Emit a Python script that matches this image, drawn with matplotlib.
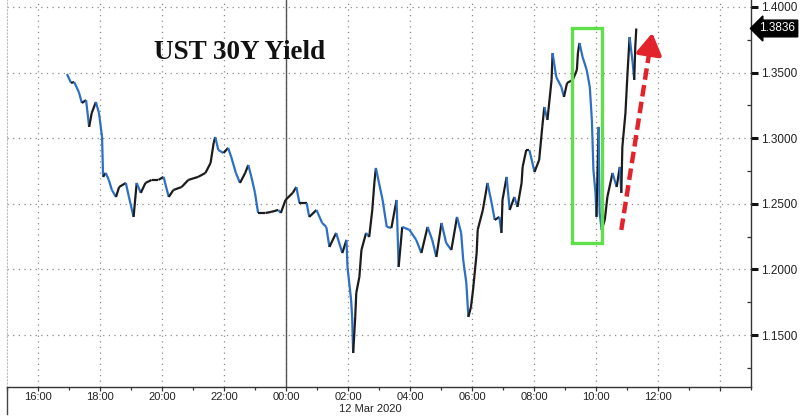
import matplotlib
matplotlib.use("Agg")
import matplotlib.pyplot as plt
import matplotlib.dates as mdates
from matplotlib.collections import LineCollection
from matplotlib.patches import Rectangle
from matplotlib.ticker import MultipleLocator, FormatStrFormatter, FuncFormatter
import pandas as pd
import numpy as np

# ---------------- data ----------------
times_day1 = ["16:56", "17:04", "17:10", "17:19", "17:25", "17:33", "17:39", "17:44", "17:52", "17:58",
              "18:04", "18:06", "18:11", "18:17", "18:23", "18:31", "18:37", "18:50", "18:56", "19:05",
              "19:11", "19:19", "19:28", "19:40", "19:53", "20:03", "20:13", "20:22", "20:38", "20:51",
              "21:10", "21:24", "21:34", "21:40", "21:43", "21:49", "21:59", "22:08", "22:14", "22:23",
              "22:31", "22:41", "22:47", "22:53", "23:00", "23:06", "23:20", "23:31", "23:45", "23:50",
              "23:59"]
yield_day1 = [1.3489, 1.3421, 1.3428, 1.3352, 1.3268, 1.3291, 1.3086, 1.3192, 1.3276, 1.3192,
              1.3009, 1.2705, 1.2735, 1.2682, 1.2605, 1.2552, 1.2628, 1.2659, 1.2552, 1.2400,
              1.2659, 1.2583, 1.2659, 1.2682, 1.2682, 1.2705, 1.2552, 1.2605, 1.2628, 1.2682,
              1.2705, 1.2735, 1.2811, 1.2964, 1.3009, 1.2910, 1.2887, 1.2926, 1.2857, 1.2735,
              1.2659, 1.2735, 1.2796, 1.2705, 1.2583, 1.2430, 1.2430, 1.2438, 1.2453, 1.2430,
              1.2529]
times_day2 = ["00:13", "00:20", "00:26", "00:40", "00:45", "00:59", "01:10", "01:18", "01:24", "01:37",
              "01:49", "01:57", "01:59", "02:06", "02:08", "02:10", "02:14", "02:16", "02:22", "02:26",
              "02:35", "02:41", "02:47", "02:51", "02:54", "03:00", "03:07", "03:15", "03:24", "03:34",
              "03:36", "03:38", "03:45", "03:59", "04:12", "04:22", "04:34", "04:43", "04:51", "05:01",
              "05:10", "05:20", "05:31", "05:39", "05:43", "05:49", "05:53", "05:58", "06:02", "06:09",
              "06:11", "06:21", "06:30", "06:38", "06:44", "06:53", "06:57", "06:59", "07:07", "07:13",
              "07:22", "07:28", "07:36", "07:38", "07:45", "07:51", "08:01", "08:10", "08:16", "08:20",
              "08:26", "08:34", "08:36", "08:43", "08:53", "08:58", "09:04", "09:15", "09:23", "09:25",
              "09:28", "09:34", "09:42", "09:48", "09:52", "09:55", "09:59", "10:01", "10:05", "10:07",
              "10:11", "10:17", "10:22", "10:32", "10:40", "10:46", "10:49", "10:51", "10:57", "11:01",
              "11:05", "11:11", "11:14", "11:16", "11:18"]
yield_day2 = [1.2583, 1.2628, 1.2506, 1.2506, 1.2400, 1.2453, 1.2354, 1.2324, 1.2171, 1.2278,
              1.2125, 1.2225, 1.2019, 1.1767, 1.1638, 1.1363, 1.1638, 1.1821, 1.1943, 1.2148,
              1.2278, 1.2247, 1.2453, 1.2659, 1.2773, 1.2659, 1.2529, 1.2324, 1.2316, 1.2529,
              1.2278, 1.2019, 1.2324, 1.2301, 1.2225, 1.2125, 1.2324, 1.2225, 1.2095, 1.2354,
              1.2202, 1.2148, 1.2400, 1.2278, 1.2072, 1.1897, 1.1638, 1.1714, 1.1843, 1.2125,
              1.2301, 1.2453, 1.2659, 1.2506, 1.2377, 1.2400, 1.2278, 1.2529, 1.2705, 1.2453,
              1.2552, 1.2476, 1.2659, 1.2781, 1.2910, 1.2910, 1.2743, 1.2834, 1.3086, 1.3238,
              1.3139, 1.3444, 1.3649, 1.3466, 1.3390, 1.3314, 1.3421, 1.3444, 1.3520, 1.3649,
              1.3726, 1.3619, 1.3520, 1.3390, 1.3139, 1.2758, 1.2583, 1.2400, 1.3086, 1.2430,
              1.2301, 1.2377, 1.2552, 1.2735, 1.2628, 1.2781, 1.2583, 1.2933, 1.3192, 1.3497,
              1.3771, 1.3573, 1.3444, 1.3695, 1.3836]

title_text = "UST 30Y Yield"
date_label = "12 Mar 2020"
last_label = "1.3836"
y_ticks = [1.15, 1.20, 1.25, 1.30, 1.35, 1.40]
unlabelled_hours = [14]

# annotation shapes (time, value)
box_times = ("2020-03-12 09:13", "2020-03-12 10:11")
box_values = (1.2202, 1.3840)
arrow_times = ("2020-03-12 10:49", "2020-03-12 11:49")
arrow_values = (1.2301, 1.3802)

# ---------------- build ----------------
t = pd.to_datetime(["2020-03-11 " + s for s in times_day1] + ["2020-03-12 " + s for s in times_day2])
v = np.array(yield_day1 + yield_day2)
x = mdates.date2num(t.to_pydatetime())

fig = plt.figure(figsize=(8, 4.16), dpi=100)
ax = fig.add_axes([7 / 800, 1 - 387 / 416, 744 / 800, 387 / 416])

x0 = mdates.date2num(pd.Timestamp("2020-03-11 15:00").to_pydatetime())
x1 = mdates.date2num(pd.Timestamp("2020-03-12 15:00").to_pydatetime())
ax.set_xlim(x0, x1)
ax.set_ylim(1.1104, 1.4053)

# price path, coloured by direction
pts = np.column_stack([x, v])
segs = np.stack([pts[:-1], pts[1:]], axis=1)
up = np.diff(v) >= 0
cols = np.where(up, "#1c1c1c", "#2b6fc6")
lc = LineCollection(segs, colors=cols, linewidths=1.6, capstyle="butt", zorder=3)
ax.add_collection(lc)

# grid / axes styling
def hour_fmt(val, pos):
    d = mdates.num2date(val)
    if d.hour in unlabelled_hours:
        return ""
    return d.strftime("%H:%M")

ax.xaxis.set_major_locator(mdates.HourLocator(byhour=range(0, 24, 2)))
ax.xaxis.set_minor_locator(mdates.HourLocator())
ax.xaxis.set_major_formatter(FuncFormatter(hour_fmt))
ax.yaxis.tick_right()
ax.yaxis.set_minor_locator(MultipleLocator(0.025))
ax.yaxis.set_major_formatter(FormatStrFormatter("%.4f"))
ax.set_yticks(y_ticks)

ax.grid(True, which="major", color="#8a8a8a", linestyle=(0, (1, 3.5)), linewidth=0.9)
ax.spines["top"].set_visible(False)
ax.spines["left"].set_color("#bbbbbb")
ax.spines["left"].set_linestyle((0, (1, 2)))
for s in ["right", "bottom"]:
    ax.spines[s].set_color("#333333")
    ax.spines[s].set_linewidth(1.0)

ax.tick_params(axis="x", which="major", direction="out", length=3, width=0.9, color="#333333",
               labelsize=8, labelcolor="#222222", pad=0.3)
ax.tick_params(axis="x", which="minor", direction="out", length=2.5, width=0.9, color="#333333")
ax.tick_params(axis="y", which="major", direction="out", length=5, width=2.2, color="#111111",
               labelsize=8.5, labelcolor="#222222", pad=2)
ax.tick_params(axis="y", which="minor", direction="in", length=3, width=0.9, color="#333333")
for lab in ax.get_xticklabels() + ax.get_yticklabels():
    lab.set_fontfamily("Liberation Sans")

# day separator
midnight = mdates.date2num(pd.Timestamp("2020-03-12 00:00").to_pydatetime())
ax.axvline(midnight, color="#555555", linewidth=1.0, zorder=2)
ax.plot([0, 0], [0, -0.07], transform=ax.transAxes, color="#444444", lw=1.0, clip_on=False)

# title
fig.text(240 / 800, 1 - 59 / 416, title_text, ha="center", va="baseline",
         fontfamily="Liberation Serif", fontweight="bold", fontsize=19.5, color="#111111")

# date label
fig.text(370 / 800, 1 - 409.5 / 416, date_label, ha="center", va="center",
         fontfamily="Liberation Sans", fontsize=8, color="#222222")

# last value tag
ax.annotate(last_label, xy=(1.0, v[-1]), xycoords=("axes fraction", "data"),
            xytext=(6, 0), textcoords="offset points", ha="left", va="center",
            color="white", fontsize=8.5, fontfamily="Liberation Sans",
            bbox=dict(boxstyle="larrow,pad=0.2", fc="black", ec="black"), annotation_clip=False)

# green highlight box
bx0 = mdates.date2num(pd.Timestamp(box_times[0]).to_pydatetime())
bx1 = mdates.date2num(pd.Timestamp(box_times[1]).to_pydatetime())
ax.add_patch(Rectangle((bx0, box_values[0]), bx1 - bx0, box_values[1] - box_values[0],
                       fill=False, ec="#5fe04a", lw=2.4, zorder=4))

# red dashed arrow
ax0 = mdates.date2num(pd.Timestamp(arrow_times[0]).to_pydatetime())
ax1 = mdates.date2num(pd.Timestamp(arrow_times[1]).to_pydatetime())
frac = 0.9
mx = ax0 + (ax1 - ax0) * frac
my = arrow_values[0] + (arrow_values[1] - arrow_values[0]) * frac
ax.plot([ax0, mx], [arrow_values[0], my], color="#e3232c", lw=3.2,
        linestyle=(0, (2.6, 1.2)), solid_capstyle="butt", zorder=4)
ax.annotate("", xy=(ax1, arrow_values[1]), xytext=(mx, my),
            arrowprops=dict(arrowstyle="-|>,head_length=0.9,head_width=0.55", color="#e3232c",
                            lw=3.2, mutation_scale=14, shrinkA=0, shrinkB=0), zorder=5)

fig.savefig("out.png", dpi=100)
